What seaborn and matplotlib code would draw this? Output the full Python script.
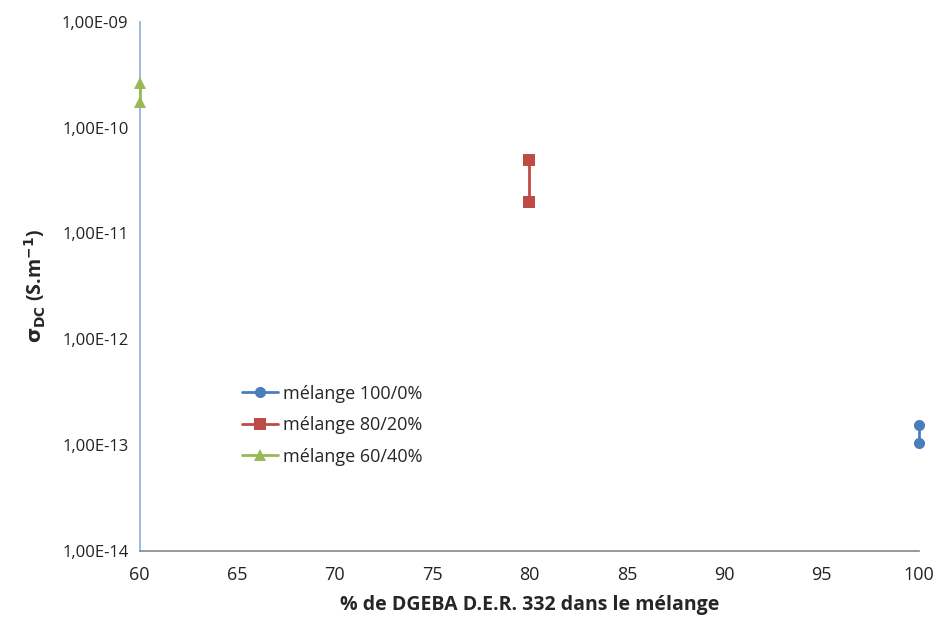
import pandas as pd
import matplotlib
matplotlib.use("Agg")
import matplotlib.pyplot as plt
from matplotlib.ticker import FuncFormatter, FixedLocator, NullLocator
import seaborn as sns

# --- données ---
series_names = ["mélange 100/0%", "mélange 80/20%", "mélange 60/40%"]
x_100 = [100, 100]
y_100 = [1.55e-13, 1.04e-13]
x_80 = [80, 80]
y_80 = [4.9e-11, 1.96e-11]
x_60 = [60, 60]
y_60 = [2.66e-10, 1.76e-10]
x_ticks = [60, 65, 70, 75, 80, 85, 90, 95, 100]
y_ticks = [1e-14, 1e-13, 1e-12, 1e-11, 1e-10, 1e-9]

couleurs = ["#4a7ebb", "#be4b48", "#98b954"]

df = pd.DataFrame({
    "x": x_100 + x_80 + x_60,
    "y": y_100 + y_80 + y_60,
    "serie": [series_names[0]] * 2 + [series_names[1]] * 2 + [series_names[2]] * 2,
})

sns.set_theme(style="white")
plt.rcParams['font.family'] = ['Open Sans', 'DejaVu Sans']

fig = plt.figure(figsize=(9.37, 6.21), dpi=100)
ax = fig.add_axes([0.149, 0.113, 0.832, 0.852])

sns.lineplot(data=df, x="x", y="y", hue="serie", style="serie",
             hue_order=series_names, style_order=series_names,
             palette=couleurs, markers=["o", "s", "^"], dashes=False,
             estimator=None, sort=False, linewidth=2, markersize=8,
             markeredgewidth=0, clip_on=False, zorder=5, ax=ax)

ax.set_yscale("log")
ax.set_ylim(1e-14, 1e-9)
ax.set_xlim(60, 100)
ax.yaxis.set_major_locator(FixedLocator(y_ticks))
ax.yaxis.set_minor_locator(NullLocator())
ax.yaxis.set_major_formatter(FuncFormatter(lambda v, p: f"{v:.2E}".replace(".", ",")))
ax.set_xticks(x_ticks)

for s in ["top", "right"]:
    ax.spines[s].set_visible(False)
ax.spines["left"].set_color("#8eb4d6")
ax.spines["bottom"].set_color("#8c8c8c")
ax.tick_params(axis="y", direction="in", length=4, colors="#8eb4d6", labelcolor="#222222", labelsize=12, pad=8)
ax.tick_params(axis="x", direction="inout", length=6, colors="#8c8c8c", labelcolor="#222222", labelsize=13, pad=8)

ax.set_xlabel("% de DGEBA D.E.R. 332 dans le mélange", fontsize=14, fontweight="bold", labelpad=8)
ax.set_ylabel(r"$\mathbf{\sigma_{DC}}$ (S.m$^{\mathbf{-1}}$)", fontsize=14, fontweight="bold", labelpad=10)

ax.legend(title=None, frameon=False, loc="upper left", bbox_to_anchor=(0.11, 0.345),
          fontsize=13, handlelength=2.0, handletextpad=0.3, labelspacing=0.75)

plt.savefig("out.png", dpi=100)
plt.close()
